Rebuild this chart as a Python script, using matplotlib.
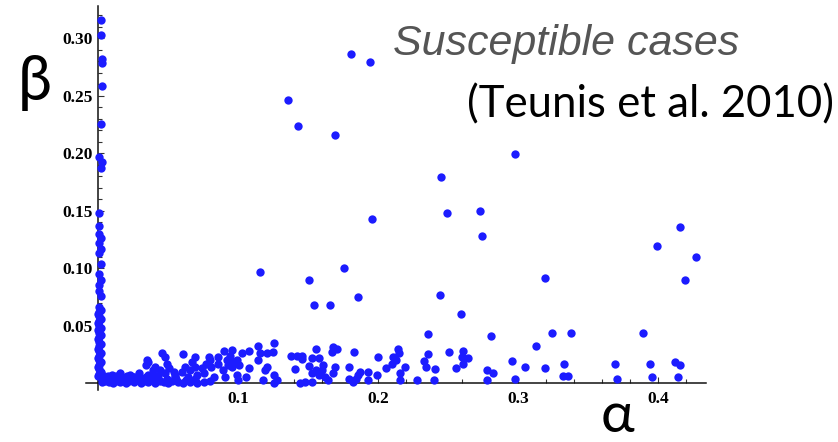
import numpy as np
import matplotlib.pyplot as plt
from matplotlib.ticker import MultipleLocator, FuncFormatter

# points stacked on the beta axis (alpha close to zero)
axis_alpha = [0.002, 0.002, 0.003, 0.003, 0.003,
              0.002, 0.001, 0.003, 0.002, 0.001,
              0.001, 0.001, 0.002, 0.001, 0.002,
              0.001, 0.002, 0.001, 0.002, 0.001,
              0.001, 0.002, 0.001, 0.002, 0.001,
              0.000, 0.001, 0.002, 0.001, 0.000,
              0.001, 0.002, 0.000, 0.001, 0.002,
              0.001, 0.000, 0.001, 0.002, 0.001,
              0.000, 0.001, 0.002, 0.001, 0.000,
              0.001, 0.002, 0.001, 0.000, 0.001,
              0.002, 0.001, 0.000]
axis_beta = [0.316, 0.303, 0.282, 0.278, 0.258,
             0.225, 0.197, 0.192, 0.187, 0.148,
             0.137, 0.130, 0.126, 0.122, 0.117,
             0.113, 0.104, 0.095, 0.090, 0.085,
             0.080, 0.076, 0.066, 0.064, 0.062,
             0.060, 0.058, 0.056, 0.054, 0.052,
             0.050, 0.048, 0.046, 0.044, 0.042,
             0.040, 0.038, 0.036, 0.034, 0.032,
             0.030, 0.028, 0.026, 0.024, 0.022,
             0.020, 0.018, 0.016, 0.014, 0.012,
             0.010, 0.008, 0.006]

# points lying along the alpha axis
floor_alpha = [0.003, 0.004, 0.005, 0.006, 0.008,
               0.009, 0.011, 0.012, 0.014, 0.016,
               0.018, 0.020, 0.022, 0.024, 0.026,
               0.028, 0.031, 0.033, 0.036, 0.038,
               0.041, 0.044, 0.047, 0.050, 0.053,
               0.057, 0.061, 0.066, 0.071, 0.076,
               0.004, 0.007, 0.010, 0.013, 0.017,
               0.021, 0.025, 0.029, 0.034, 0.039,
               0.043, 0.049, 0.055, 0.063, 0.069,
               0.080]
floor_beta = [0.001, 0.004, 0.002, 0.005, 0.001,
              0.003, 0.000, 0.004, 0.002, 0.001,
              0.003, 0.000, 0.002, 0.004, 0.001,
              0.003, 0.000, 0.002, 0.001, 0.003,
              0.000, 0.002, 0.001, 0.000, 0.002,
              0.001, 0.000, 0.001, 0.000, 0.001,
              0.006, 0.006, 0.005, 0.006, 0.005,
              0.006, 0.005, 0.006, 0.005, 0.004,
              0.006, 0.004, 0.005, 0.003, 0.004,
              0.002]

# the rest of the cloud
spread_alpha = [0.181, 0.194, 0.136, 0.143, 0.169, 0.298, 0.245, 0.249,
                0.273, 0.274, 0.196, 0.416, 0.399, 0.427, 0.419, 0.116,
                0.176, 0.151, 0.319, 0.154, 0.166, 0.186, 0.244, 0.259,
                0.236, 0.281, 0.313, 0.324, 0.338, 0.389,
                0.369, 0.371, 0.394, 0.396, 0.412, 0.416, 0.414,
                0.296, 0.298, 0.305, 0.319, 0.333, 0.332, 0.336,
                0.278, 0.282, 0.278,
                0.251, 0.261, 0.260, 0.264, 0.261, 0.256,
                0.236, 0.233, 0.234, 0.241, 0.240, 0.228,
                0.214, 0.215, 0.211, 0.213, 0.210, 0.219, 0.216, 0.216,
                0.206, 0.200, 0.199, 0.193, 0.193,
                0.183, 0.187, 0.186, 0.184, 0.182, 0.179, 0.179,
                0.171, 0.168, 0.167, 0.169, 0.168, 0.164,
                0.156, 0.158, 0.153, 0.151, 0.161, 0.160, 0.156, 0.153,
                0.158, 0.162, 0.153, 0.148, 0.144,
                0.138, 0.142, 0.146, 0.146, 0.141, 0.126,
                0.126, 0.114, 0.125, 0.121, 0.116, 0.108, 0.114, 0.121,
                0.119, 0.126, 0.128, 0.118, 0.108, 0.106,
                0.096, 0.090, 0.103, 0.094, 0.092, 0.096, 0.099, 0.101,
                0.096, 0.093, 0.086, 0.086, 0.089, 0.091, 0.099, 0.100,
                0.079, 0.080, 0.077, 0.081, 0.074, 0.076, 0.083, 0.071,
                0.069, 0.067, 0.069, 0.066, 0.064,
                0.061, 0.062, 0.060, 0.056, 0.046, 0.048, 0.049, 0.051,
                0.054, 0.055, 0.048, 0.044, 0.041, 0.039,
                0.035, 0.034, 0.036, 0.039, 0.036, 0.034, 0.029, 0.026,
                0.023, 0.019, 0.016, 0.014, 0.010, 0.007, 0.005, 0.003]
spread_beta = [0.286, 0.279, 0.246, 0.224, 0.216, 0.199, 0.179, 0.148,
               0.150, 0.128, 0.143, 0.136, 0.119, 0.110, 0.090, 0.097,
               0.100, 0.090, 0.091, 0.068, 0.068, 0.075, 0.077, 0.060,
               0.043, 0.041, 0.032, 0.044, 0.044, 0.044,
               0.017, 0.004, 0.017, 0.005, 0.018, 0.016, 0.005,
               0.019, 0.004, 0.014, 0.013, 0.017, 0.006, 0.006,
               0.011, 0.009, 0.003,
               0.027, 0.028, 0.023, 0.022, 0.017, 0.013,
               0.025, 0.019, 0.014, 0.012, 0.003, 0.003,
               0.030, 0.026, 0.023, 0.020, 0.017, 0.014, 0.009, 0.003,
               0.013, 0.023, 0.007, 0.010, 0.003,
               0.027, 0.010, 0.007, 0.004, 0.001, 0.014, 0.004,
               0.030, 0.031, 0.027, 0.014, 0.009, 0.003,
               0.030, 0.022, 0.022, 0.015, 0.016, 0.011, 0.011, 0.009,
               0.007, 0.005, 0.001, 0.001, 0.000,
               0.024, 0.024, 0.024, 0.021, 0.012, 0.000,
               0.035, 0.032, 0.027, 0.026, 0.026, 0.028, 0.020, 0.014,
               0.011, 0.007, 0.003, 0.003, 0.013, 0.005,
               0.029, 0.028, 0.026, 0.024, 0.020, 0.018, 0.020, 0.016,
               0.014, 0.016, 0.023, 0.017, 0.011, 0.005, 0.007, 0.003,
               0.023, 0.020, 0.017, 0.014, 0.013, 0.009, 0.005, 0.007,
               0.023, 0.018, 0.014, 0.011, 0.005,
               0.025, 0.014, 0.010, 0.004, 0.026, 0.023, 0.017, 0.013,
               0.010, 0.007, 0.009, 0.011, 0.014, 0.011,
               0.020, 0.016, 0.018, 0.007, 0.007, 0.004, 0.009, 0.005,
               0.007, 0.004, 0.009, 0.005, 0.007, 0.004, 0.005, 0.004]

alpha = np.array(axis_alpha + floor_alpha + spread_alpha)
beta = np.array(axis_beta + floor_beta + spread_beta)

W, H = 838, 442
fig = plt.figure(figsize=(W / 100, H / 100), dpi=100)
# axes box placed in pixels so the origin lands where the picture has it
ax = fig.add_axes([86 / W, 1 - 390 / H, 620 / W, 384 / H])
ax.scatter(alpha, beta, s=36, color='#1c1cff', linewidths=0, zorder=3,
           clip_on=False)
ax.set_xlim(-0.0086, 0.4343)
ax.set_ylim(-0.006, 0.328)

# axes crossing at the origin, mathematica style
ax.spines['left'].set_position(('data', 0))
ax.spines['bottom'].set_position(('data', 0))
ax.spines['top'].set_visible(False)
ax.spines['right'].set_visible(False)
for s in ['left', 'bottom']:
    ax.spines[s].set_linewidth(1.1)
    ax.spines[s].set_color('#111111')

ax.xaxis.set_major_locator(MultipleLocator(0.1))
ax.xaxis.set_minor_locator(MultipleLocator(0.02))
ax.yaxis.set_major_locator(MultipleLocator(0.05))
ax.yaxis.set_minor_locator(MultipleLocator(0.01))
ax.xaxis.set_major_formatter(FuncFormatter(lambda v, p: '' if abs(v) < 1e-9 else '%.1f' % v))
ax.yaxis.set_major_formatter(FuncFormatter(lambda v, p: '' if abs(v) < 1e-9 else '%.2f' % v))

ax.tick_params(which='both', direction='in', color='#333333', width=0.8)
ax.tick_params(which='major', length=4.5)
ax.tick_params(which='minor', length=2.6)
ax.tick_params(axis='x', pad=6)
ax.tick_params(axis='y', pad=4)
for lab in ax.get_xticklabels() + ax.get_yticklabels():
    lab.set_fontfamily('Liberation Serif')
    lab.set_fontweight('bold')
    lab.set_fontsize(12.5)

# big axis letters and the caption
fig.text(18 / W, 1 - 100 / H, 'β', fontsize=44, family=['Lato', 'Noto Sans'],
         va='baseline', ha='left')
fig.text(601 / W, 1 - 432 / H, 'α', fontsize=41, family=['Lato', 'Noto Sans'],
         va='baseline', ha='left')
fig.text(393 / W, 1 - 55 / H, 'Susceptible cases', fontsize=31, style='italic',
         family='Liberation Sans', color='#555555', va='baseline', ha='left')
fig.text(467 / W, 1 - 117 / H, '(Teunis et al. 2010)', fontsize=31.5,
         family='Lato', color='black', va='baseline', ha='left')

fig.savefig('out.png', dpi=100)
